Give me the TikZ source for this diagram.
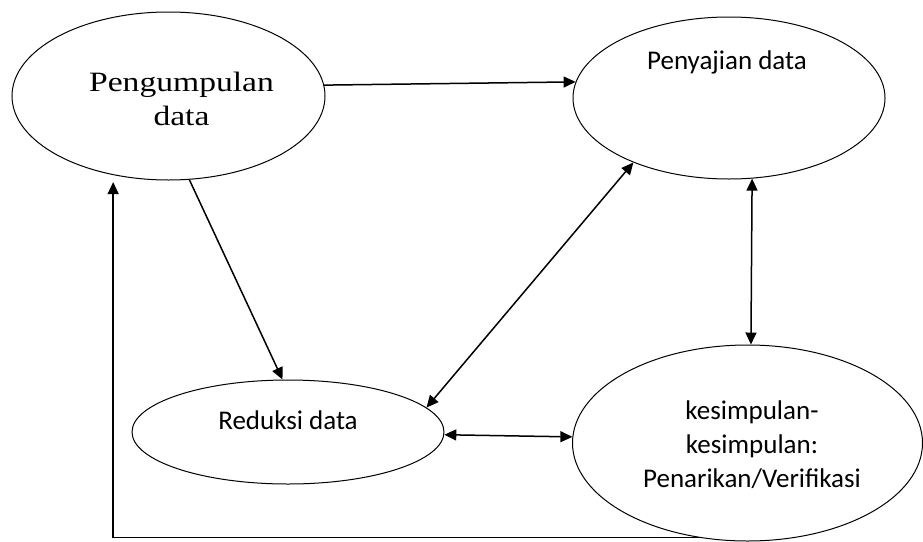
\documentclass[tikz,border=0pt]{standalone}
\usepackage{fontspec}
\setmainfont{Carlito}
\newfontfamily\serifc[FakeStretch=1.2]{Liberation Serif}
\usetikzlibrary{shapes.geometric,arrows.meta}
\begin{document}
\begin{tikzpicture}[x=1pt,y=-1pt,
  oval/.style={ellipse,draw,line width=1pt,inner sep=0pt},
  conn/.style={line width=1.5pt,-{Triangle[length=12pt,width=11pt]}},
  bconn/.style={line width=1.5pt,{Triangle[length=12pt,width=11pt]}-{Triangle[length=12pt,width=11pt]}},
  lbl/.style={anchor=base,font=\fontsize{27}{34}\selectfont,align=center,inner sep=0pt}]
\useasboundingbox (0,0) rectangle (923,541);
\node[oval,minimum width=313pt,minimum height=168pt] (peng) at (168.5,96) {};
\node[oval,minimum width=312pt,minimum height=162pt] (pen) at (729,98) {};
\node[oval,minimum width=312pt,minimum height=104pt] (red) at (288,432) {};
\node[oval,minimum width=350pt,minimum height=196pt] (kes) at (747.5,443) {};
\node[lbl,font=\serifc\fontsize{28}{34}\selectfont] (tpeng) at (181.5,125) {Pengumpulan\\data};
\node[lbl] (tpen) at (727,69) {Penyajian data};
\node[lbl] (tred) at (288,429) {Reduksi data};
\node[lbl] (tkes) at (752,487) {kesimpulan-\\kesimpulan:\\Penarikan/Verifikasi};
\draw[conn] (peng.4.4) -- (pen.174.8);
\draw[conn] (peng.-76.5) -- (red.96.6);
\draw[bconn] (red.10.6) -- (pen.214.1);
\draw[bconn] (pen.-74.7) -- (kes.88);
\draw[bconn] (red.-1.8) -- (kes.178);
\draw[conn,shorten >=7pt] (kes.-117.8) -| (peng.-125);
\end{tikzpicture}
\end{document}
